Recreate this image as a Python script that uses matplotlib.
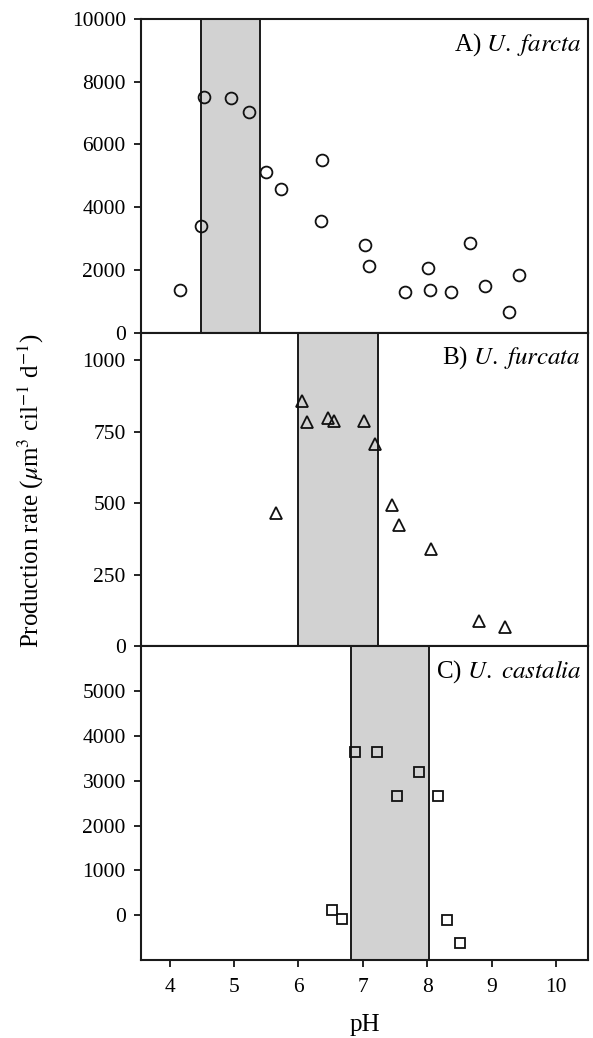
import matplotlib
matplotlib.use("Agg")
import matplotlib.pyplot as plt

plt.rcParams['font.family'] = ['Liberation Serif', 'STIXGeneral', 'DejaVu Serif']
plt.rcParams['mathtext.fontset'] = 'stix'

# A) U. farcta
ph_a = [4.16, 4.49, 4.53, 4.96, 5.24, 5.50, 5.73, 6.37, 6.35, 7.03, 7.10,
        7.65, 8.01, 8.04, 8.36, 8.66, 8.90, 9.27, 9.42]
rate_a = [1360, 3400, 7500, 7490, 7040, 5120, 4570, 5520, 3570, 2780, 2110,
          1310, 2050, 1360, 1310, 2850, 1480, 650, 1830]
band_a = (4.49, 5.40)

# B) U. furcata
ph_b = [5.65, 6.05, 6.13, 6.46, 6.55, 7.01, 7.18, 7.45, 7.56, 8.06, 8.80, 9.21]
rate_b = [467, 858, 783, 798, 786, 788, 705, 495, 425, 341, 89, 69]
band_b = (5.99, 7.24)

# C) U. castalia
ph_c = [6.52, 6.67, 6.87, 7.21, 7.53, 7.87, 8.17, 8.30, 8.51]
rate_c = [127, -89, 3640, 3650, 2670, 3190, 2670, -96, -615]
band_c = (6.81, 8.03)

panels = [
    (ph_a, rate_a, band_a, 'o', 8.5, (0, 10000), [0, 2000, 4000, 6000, 8000, 10000], 'A) ', 'U. farcta'),
    (ph_b, rate_b, band_b, '^', 8.5, (0, 1095), [0, 250, 500, 750, 1000], 'B) ', 'U. furcata'),
    (ph_c, rate_c, band_c, 's', 7.0, (-1000, 6000), [0, 1000, 2000, 3000, 4000, 5000], 'C) ', 'U. castalia'),
]

fig, axs = plt.subplots(3, 1, sharex=True, figsize=(5.93, 10.38), dpi=100)
fig.subplots_adjust(left=0.238, right=0.9916, top=0.9817, bottom=0.0751, hspace=0)

for ax, (x, y, band, mk, ms, ylim, yt, tag, name) in zip(axs, panels):
    ax.axvspan(band[0], band[1], facecolor='#d2d2d2', edgecolor='none', zorder=1)
    ax.axvline(band[0], color='#1a1a1a', lw=1.4, zorder=2)
    ax.axvline(band[1], color='#1a1a1a', lw=1.4, zorder=2)
    ax.plot(x, y, linestyle='none', marker=mk, markersize=ms,
            markerfacecolor='none', markeredgecolor='#111111', markeredgewidth=1.3, zorder=3)
    ax.set_ylim(*ylim)
    ax.set_yticks(yt)
    ax.set_xlim(3.56, 10.49)
    for s in ax.spines.values():
        s.set_linewidth(1.5)
        s.set_color('#1a1a1a')
    ax.tick_params(axis='y', direction='out', length=5, width=1.2, labelsize=15.5, pad=6)
    ax.tick_params(axis='x', bottom=False, labelbottom=False)
    ax.text(0.985, 0.92, tag + r'$\it{' + name.replace(' ', r'\ ') + '}$',
            transform=ax.transAxes, ha='right', va='center', fontsize=18)

axs[2].set_xticks([4, 5, 6, 7, 8, 9, 10])
axs[2].tick_params(axis='x', bottom=True, labelbottom=True, direction='out',
                   length=5, width=1.2, labelsize=15.5, pad=8)
axs[2].set_xlabel('pH', fontsize=18, labelpad=12)

fig.text(0.052, 0.527, r'Production rate ($\mu$m$^3$ cil$^{-1}$ d$^{-1}$)',
         rotation=90, ha='center', va='center', fontsize=18)

fig.savefig('out.png', dpi=100)
